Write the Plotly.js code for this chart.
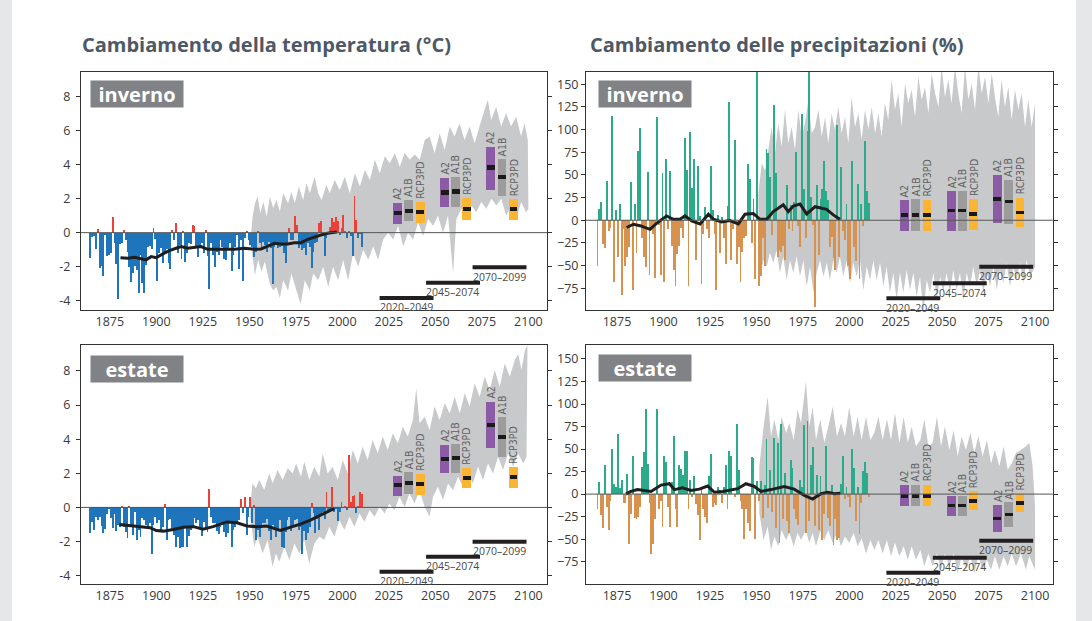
<!DOCTYPE html>
<html><head><meta charset="utf-8">
<script src="https://cdn.plot.ly/plotly-3.0.1.min.js"></script>
<style>
html,body{margin:0;padding:0;background:#e6e7e8;overflow:hidden;}
#frame{position:absolute;left:12px;top:0;width:1064px;height:621px;background:#ffffff;}
#chart{position:absolute;left:0;top:0;width:1092px;height:621px;}
</style></head>
<body><div id="frame"></div><div id="chart"></div>
<script>
// ---------------- DATA ----------------
const firstYear = 1864;
const tickYears = [1875,1900,1925,1950,1975,2000,2025,2050,2075,2100];
const tempTicks = [-4,-2,0,2,4,6,8];
const precTicks = [-75,-50,-25,0,25,50,75,100,125,150];

// Winter temperature anomaly (°C), 1864–2010
const tempWinter = [
 -1.47,-0.24,-0.2,-0.96,0.22,-2.06,
 -1.96,-2.53,-0.14,-1.35,-1.3,-1.18,0.92,-0.59,-1.82,-3.92,
 -0.69,-0.59,0.16,-0.43,-1.12,-2.04,-2.88,-2.35,-1.94,-2.2,
 -3.53,-1.31,-2.98,-3.53,-1.9,-0.82,-0.78,-0.98,0.25,-0.39,
 -2.82,-1.18,-0.9,-1.8,-1.22,-0.98,-1.8,-2.16,0.16,-0.43,
 0.57,-1.22,-0.75,-1.57,0.1,-1.73,-1.18,-0.63,-0.67,0.45,
 0.39,-0.82,-1.41,-0.82,-0.63,-1.18,0.16,-1.37,-3.33,-0.63,
 -1.33,-2.04,-1.16,-1.31,-0.43,-0.82,-1.57,-1.6,-0.92,-0.63,
 -2.24,-1.31,-0.82,-0.14,-2.12,-0.43,-2.82,-0.33,0.1,-0.43,
 -0.73,-0.82,-1.41,-1.12,0.1,-0.63,-0.82,-0.53,-0.73,-1.12,
 -0.53,-0.88,-3.0,-0.82,-0.73,-0.92,-0.82,-0.78,-1.22,-1.8,
 -0.73,0.25,-0.43,-0.43,0.98,0.45,-0.92,-0.73,-1.02,-0.92,
 -1.31,-0.63,-0.82,-2.1,-1.12,-0.63,-0.53,0.55,0.69,-0.14,
 -1.37,-0.33,0.06,0.35,0.84,0.65,0.9,0.7,-0.14,0.25,
 1.05,0.1,-0.33,0.1,-0.2,-1.37,2.16,0.75,-0.3,-0.1,-0.85];

// Summer temperature anomaly (°C), 1864–2010
const tempSummer = [
 -1.48,-0.84,-1.33,-0.55,-0.74,-0.59,
 -1.09,-1.48,-1.29,-0.41,-0.12,-0.64,-1.19,-0.41,-1.37,-1.04,
 -1.13,0.08,-1.13,-1.43,-1.82,0.08,-1.13,-1.62,-0.25,-1.91,
 -1.33,-1.76,-0.64,-0.74,-1.04,-1.13,-0.94,-2.73,-1.04,-0.59,
 -0.94,-0.74,-1.33,-1.17,0.2,-1.91,-0.74,-0.7,-1.33,-1.62,
 -2.34,-1.72,-2.4,-2.3,-2.3,-1.13,-2.3,-1.68,-1.33,-1.13,
 -0.64,-0.94,-0.74,-1.23,-1.68,-0.84,-1.29,-1.43,1.05,-0.55,
 -0.94,-0.9,-1.37,-1.56,-1.17,-0.9,-1.43,-1.72,-1.52,-0.9,
 -2.3,-1.33,-1.13,-0.98,-0.74,0.47,-0.35,0.6,-1.64,-0.55,
 0.62,-0.94,0.14,-1.91,-1.33,-1.72,-1.23,-0.9,-0.94,-0.7,
 -1.37,-1.91,-1.04,-1.33,-1.72,-1.33,-0.74,-2.3,-2.4,-1.43,
 -0.74,-0.55,-1.37,-1.04,-0.74,-0.7,-1.33,-1.13,-2.73,-1.37,
 -1.91,-1.52,-1.13,0.27,-0.35,-1.52,-0.7,-1.33,-0.51,-0.25,
 -0.7,0.88,-0.35,-0.16,1.17,-0.25,-0.12,-0.8,-0.25,0.3,
 -0.06,0.1,-0.16,3.07,0.33,0.65,0.75,-0.3,0.1,0.9,0.8];

// Winter precipitation anomaly (%), 1864–2010
const precWinter = [
 -50,12,20,-26,-31,43,
 -12,-8,115,-68,11,-41,18,-82,-10,-51,
 -40,-30,42,-77,18,-36,76,102,-20,-41,
 -52,53,-60,-10,-15,-64,114,-5,-60,52,
 -68,68,-10,54,-28,-55,-72,-37,-28,-8,
 -20,91,55,-72,97,36,68,-44,60,5,
 -70,-15,15,-10,-20,60,11,-15,-77,6,
 -36,4,-20,-48,16,131,-44,-10,89,-48,
 -30,-68,-35,-20,-17,62,46,-25,23,-65,
 164,-72,-62,-20,-50,79,74,48,-16,127,
 52,-40,-33,-35,-28,-44,39,-10,17,-12,
 20,75,-6,-30,117,35,-20,98,164,26,
 -5,-96,39,-38,24,34,65,32,22,-30,
 -18,-42,-55,105,-40,59,-12,-22,18,-50,
 -65,65,-30,-45,40,-65,18,-6,87,32,19];

// Summer precipitation anomaly (%), 1864–2010
const precSummer = [
 -17,13,-23,-38,32,-14,
 -40,-8,50,11,8,67,7,16,-10,-10,
 22,-55,-22,42,-27,-28,-25,-14,30,47,
 95,33,-10,-66,-55,-28,94,-17,-8,-36,
 42,36,-14,-36,13,65,-17,-36,32,28,
 21,48,48,-16,16,-3,20,-11,-23,-51,
 8,-17,-25,-32,20,44,-14,-10,-12,8,
 5,-10,8,32,-17,48,42,0,-3,78,
 27,-8,-17,-50,-17,-32,-41,41,40,-50,
 14,-8,14,-27,10,61,-15,27,-20,62,
 -38,57,-54,78,-28,23,-30,-43,38,29,
 -17,-28,-34,16,8,77,-43,81,-30,32,
 52,-35,21,-40,20,-51,-22,53,-27,-35,
 10,-56,-28,-51,-49,11,42,-5,8,-3,
 -14,50,29,-30,8,-44,-10,26,36,23,-3];

// Smoothed curves
const twLineYears = [1880.7,1884.7,1888.3,1891,1894.5,1897.2,1899.9,1903.5,1907,1910.6,1913.3,1916.9,1920.5,1924,1927.6,1931.2,1934.8,1938,1942,1947.3,1952.7,1956.3,1959.9,1963.5,1967,1970.6,1974.2,1977.8,1981.4,1985,1988.5,1992.1,1995.7,1997];
const twLineVals  = [-1.47,-1.51,-1.45,-1.53,-1.6,-1.41,-1.47,-1.25,-1.06,-0.92,-0.82,-0.92,-0.88,-0.82,-0.98,-0.98,-1.02,-1.02,-0.98,-0.92,-0.98,-0.96,-0.78,-0.63,-0.67,-0.67,-0.59,-0.59,-0.39,-0.24,-0.14,-0.04,0,0.04];
const tsLineYears = [1880.1,1887.6,1891,1896.6,1900,1903.8,1909.2,1914.6,1920,1925,1930.5,1934,1937.9,1943.3,1948.7,1954,1959.4,1966.6,1972,1977.4,1982.8,1988.2,1992.7,1995.7];
const tsLineVals  = [-1.0,-1.09,-1.13,-1.19,-1.36,-1.39,-1.29,-1.17,-1.13,-1.28,-1.13,-0.98,-0.85,-0.9,-1.09,-1.13,-1.09,-1.35,-1.17,-0.98,-0.74,-0.45,-0.21,-0.06];
const pwLineYears = [1880.2,1883.8,1887.4,1892.8,1896.4,1901.7,1905.3,1908.9,1911.6,1915.2,1919.7,1924.2,1926.9,1931.3,1935.8,1940.3,1943.9,1948.4,1952,1955.6,1959.1,1964.5,1967.2,1969.9,1973.5,1977.1,1981.6,1985.2,1987.8,1991.4,1995];
const pwLineVals  = [-8,-4.4,-6,-10,-3.3,4.8,1.1,1.1,4.8,-0.7,-4,6.6,1.1,-1.8,-0.4,-4,6.6,7.4,1.1,1.1,9.6,17,9.6,15.8,18,7,15,13,12,5.9,1.1];
const psLineYears = [1879.8,1882.5,1886,1889.7,1893.3,1898.7,1903.2,1905.9,1910.3,1914.8,1919.3,1923.8,1927.4,1931.9,1936.4,1940,1944.4,1948.9,1952.5,1957.9,1965,1970.4,1975.8,1980.3,1984.8,1988.4,1992,1995.2];
const psLineVals  = [0,3,5,4,3,10,11.5,5,7,4,5.5,9,2,3,5,6,11.5,8.5,3,5,8.5,5.5,-1.5,-5.5,0.4,2,0.4,1];

// Scenario ranges (grey envelopes)
const twBandUpYears = [1951,1951.7,1953,1954.4,1955.9,1957.5,1959.3,1961,1962.8,1964.6,1966.4,1968.2,1970.8,1972.6,1974.4,1976.6,1978.9,1980.7,1982.5,1985.1,1987,1988.8,1991.4,1993.2,1995.9,1998.6,2001.3,2004,2006.7,2009.4,2012.1,2014.8,2017.5,2020.1,2022.8,2025.5,2028.2,2030.9,2033.5,2036.2,2038.9,2041.6,2044.3,2046.9,2049.6,2052.3,2055,2057.7,2060.3,2063,2065.7,2068.4,2071.1,2073.7,2076.4,2078.2,2080,2082.7,2085.4,2088,2090.7,2093.4,2096.1,2097.9,2099.7];
const twBandUpVals  = [-0.04,0.94,1.73,2.12,1.14,1.82,0.94,2.12,1.43,1.92,1.24,2.32,1.73,2.41,1.73,2.71,1.92,2.91,2.32,3.29,2.32,1.92,2.81,2.32,3.1,2.51,3.29,2.32,3.49,2.71,3.69,3.1,4.28,3.49,4.5,4.08,4.67,3.88,4.7,4.28,4.6,4.28,5.45,5.65,4.67,5.85,4.86,6.24,5.65,6.44,5.45,6.24,5.26,6.24,7.22,7.81,6.63,7.41,6.24,7.02,6.24,6.82,5.65,6.44,5.45];
const twBandLoYears = [1951,1953,1954.7,1956.5,1958.3,1961,1962.8,1964.6,1966.4,1968.2,1970.8,1972.6,1975.3,1977.6,1979.8,1982.5,1984.3,1987,1989.7,1992.4,1995,1997.7,2000.4,2003.1,2005.8,2008.5,2011.2,2013.9,2016.6,2019.2,2021.9,2024.6,2027.3,2030,2032.7,2035.3,2038,2040.7,2043.4,2046.1,2048.8,2051.4,2054.1,2056.8,2059.5,2061.3,2064,2066.7,2069.4,2072,2074.7,2077.4,2080.1,2082.8,2085.4,2088.1,2090.8,2093.5,2096.1,2098.8,2100];
const twBandLoVals  = [-0.8,-2.5,-1.6,-2.3,-1.7,-3.0,-3.4,-3.2,-3.85,-2.8,-3.4,-2.4,-3.4,-4.2,-2.8,-3.4,-2.4,-2.8,-2.0,-3.2,-2.0,-2.8,-1.6,-2.8,-1.2,-2.0,-1.0,-1.6,-0.8,-1.6,-0.4,0,-0.4,0.4,-0.8,0,-0.4,0.6,-0.2,0.8,0.4,1.0,0,1.0,-2.4,0.8,1.4,0.8,1.6,1.2,1.8,1.4,2.0,1.6,2.0,1.0,1.6,0.8,1.8,1.2,1.4];

const tsBandUpYears = [1950.5,1951.7,1953.5,1955.3,1958,1960.7,1962.5,1965.2,1967.9,1970.6,1973.3,1975.1,1977.8,1979.5,1982.2,1984.9,1987.6,1989.4,1992.1,1994.8,1997.5,2000.2,2002.9,2005.6,2008.3,2010.9,2013.6,2016.3,2019,2021.7,2024.4,2027.1,2029.8,2032.5,2035.2,2037.9,2039.7,2041.5,2044.2,2046.9,2049.6,2052.3,2055,2057.7,2060.4,2063.1,2065.8,2068.4,2071.1,2073.8,2076.5,2079.2,2081.9,2084.6,2087.3,2090,2092.7,2094.5,2096.3,2098.1,2099.5];
const tsBandUpVals  = [0.04,1.41,1.12,1.6,1.02,1.99,1.41,2.19,1.6,2.29,1.99,2.58,1.8,2.68,1.6,2.39,1.8,3.17,1.99,2.39,1.6,2.78,1.99,3.36,2.58,3.56,2.78,3.95,3.17,4.15,3.36,4.34,3.76,4.73,4.15,5.13,6.98,4.93,5.32,4.54,5.91,5.13,6.1,5.52,6.49,5.52,6.69,5.91,7.27,6.49,7.66,6.88,8.05,7.08,8.44,7.66,8.64,9.0,8.05,9.2,9.5];
const tsBandLoYears = [1950.5,1952.6,1954.4,1957.1,1959.8,1962.5,1964.3,1966.1,1968.8,1971.5,1974.2,1976.9,1979.5,1982.2,1984.9,1987.6,1990.3,1993,1995.7,1998.4,2001.1,2003.8,2006.5,2009.2,2011.9,2014.6,2017.3,2020,2022.7,2025.3,2028,2030.7,2033.4,2036.1,2038.8,2041.5,2044.2,2046.9,2048.7,2051.4,2054.1,2056.8,2059.5,2062.2,2064.9,2067.6,2070.2,2072.9,2075.6,2078.3,2081,2083.7,2086.4,2089.1,2091.8,2094.5,2097.2,2099];
const tsBandLoVals  = [-0.55,-2.3,-1.72,-2.7,-1.9,-3.48,-2.7,-3.19,-2.3,-3.09,-2.11,-2.7,-1.9,-3.28,-2.11,-1.72,-1.9,-1.13,-1.72,-0.74,-1.33,-0.55,-1.13,-0.35,-0.84,-0.16,-0.55,0.04,-0.35,0.23,-0.16,0.62,0.04,0.82,0.23,1.01,0.04,-0.55,0.62,1.21,0.43,1.4,1.01,1.8,1.21,1.99,1.4,2.39,1.6,2.58,1.99,2.97,2.19,3.17,2.39,3.17,2.58,2.97];

const pwBandUpYears = [1951.1,1952.9,1954.7,1956.5,1958.2,1960,1961.8,1963.6,1965.4,1967.2,1969,1970.8,1972.6,1974.4,1976.2,1978,1979.8,1981.6,1983.4,1985.2,1987,1988.7,1990.5,1992.3,1994.1,1995.9,1997.7,1999.5,2001.3,2003.1,2004.9,2006.7,2008.5,2010.3,2012.1,2013.9,2015.7,2017.4,2019.2,2021,2022.8,2024.6,2026.4,2028.2,2030,2031.8,2033.6,2035.4,2037.2,2039,2040.8,2042.6,2044.4,2046.2,2048,2049.7,2051.5,2053.3,2055.1,2056.9,2058.7,2060.5,2062.3,2064.1,2065.9,2067.7,2069.5,2071.3,2073.1,2074.9,2076.7,2078.4,2080.2,2082,2083.8,2085.6,2087.4,2089.2,2091,2092.8,2094.6,2096.4,2098.2,2100];
const pwBandUpVals  = [30,63,55,78,103,74,107,81,122,85,103,78,122,92,107,133,96,103,122,92,114,85,118,100,125,96,114,85,136,103,118,89,122,100,125,96,118,92,129,111,155,122,140,103,151,129,144,114,158,133,147,118,162,140,125,170,136,155,129,170,140,118,170,133,151,122,170,140,158,129,162,136,114,155,125,147,111,144,122,140,103,133,103,129];
const pwBandLoYears = [1951.1,1952,1953.8,1955.6,1957.3,1959.1,1960.9,1962.7,1964.5,1966.3,1968.1,1969.9,1971.7,1973.5,1975.3,1977.1,1978.9,1980.7,1982.5,1984.3,1986.1,1987.9,1989.6,1991.4,1993.2,1995,1996.8,1998.6,2000.4,2002.2,2004,2005.8,2007.6,2009.4,2011.2,2013,2014.8,2016.6,2018.4,2020.1,2021.9,2023.7,2025.5,2027.3,2029.1,2030.9,2032.7,2034.5,2036.3,2038.1,2039.9,2041.7,2043.5,2045.3,2047.1,2048.9,2050.6,2052.4,2054.2,2056,2057.8,2059.6,2061.4,2063.2,2065,2066.8,2068.6,2070.4,2072.2,2074,2075.8,2077.6,2079.4,2081.1,2082.9,2084.7,2086.5,2088.3,2090.1,2091.9,2093.7,2095.5,2097.3,2100];
const pwBandLoVals  = [-14,-62,-44,-51,-36,-47,-33,-58,-40,-66,-44,-58,-40,-62,-44,-73,-51,-80,-58,-44,-62,-47,-66,-44,-58,-40,-62,-44,-69,-47,-62,-44,-77,-51,-66,-44,-66,-47,-73,-51,-80,-58,-88,-58,-80,-55,-77,-58,-84,-62,-102,-66,-80,-58,-88,-62,-80,-58,-80,-55,-77,-58,-88,-58,-73,-51,-73,-55,-80,-58,-73,-51,-77,-55,-69,-47,-73,-51,-66,-47,-69,-44,-62,-51];

const psBandUpYears = [1951.6,1953.9,1956.1,1957.9,1959.7,1961.8,1963.6,1966,1967.8,1970.1,1972.2,1974,1976.7,1978.5,1980.3,1982.1,1984.4,1986.6,1988.7,1991.1,1993.4,1995.6,1997.7,2000,2002.4,2004.5,2006.7,2009,2011.4,2013.5,2015.7,2018,2020.3,2022.5,2024.6,2027,2029.3,2031.5,2033.6,2035.9,2038.3,2040.4,2042.6,2044.9,2047.2,2049.4,2051.5,2053.9,2056.2,2058.4,2060.5,2062.8,2065.2,2067.3,2069.5,2071.8,2074.1,2076.3,2078.4,2080.8,2083.1,2085.3,2087.4,2089.8,2092.4,2095.1,2096.9,2098.7,2100];
const psBandUpVals  = [31,75,108,64,83,60,86,68,79,60,94,79,125,75,97,60,83,57,75,97,64,79,64,97,64,86,60,86,60,68,86,60,83,60,90,57,86,57,75,53,60,83,53,57,86,53,75,49,71,42,64,49,68,46,64,42,60,34,49,31,53,27,34,46,49,53,57,31,-14];
const psBandLoYears = [1951.6,1953.9,1956.1,1957.9,1959.7,1961.8,1963.6,1966,1967.8,1970.1,1972.2,1974,1976.7,1978.5,1980.3,1982.1,1984.4,1986.6,1988.7,1991.1,1993.4,1995.6,1997.7,2000,2002.4,2004.5,2006.7,2009,2011.4,2013.5,2015.7,2018,2020.3,2022.5,2024.6,2027,2029.3,2031.5,2033.6,2035.9,2038.3,2040.4,2042.6,2044.9,2047.2,2049.4,2051.5,2053.9,2056.2,2058.4,2060.5,2062.8,2065.2,2067.3,2069.5,2071.8,2074.1,2076.3,2078.4,2080.8,2083.1,2085.3,2087.4,2089.8,2092.4,2095.1,2096.9,2100];
const psBandLoVals  = [-21,-51,-36,-62,-47,-58,-40,-51,-43,-58,-43,-51,-40,-54,-43,-58,-41,-51,-40,-54,-43,-58,-47,-54,-43,-58,-49,-66,-51,-62,-51,-66,-51,-69,-54,-69,-58,-73,-58,-73,-62,-80,-66,-80,-66,-84,-66,-80,-66,-88,-69,-84,-69,-88,-69,-84,-73,-84,-69,-84,-69,-80,-66,-80,-66,-84,-69,-84];

// Scenario boxes (3 periods x 3 scenarios)
const scenarios   = ['A2','A1B','RCP3PD','A2','A1B','RCP3PD','A2','A1B','RCP3PD'];
const boxYears    = [2029.7,2035.7,2041.9,2055,2060.9,2066.8,2079.7,2085.8,2092];
const twBoxLow  = [0.51,0.71,0.57,1.53,1.53,0.75,2.51,2.18,0.75];
const twBoxHigh = [1.73,1.93,1.81,3.22,3.28,2.06,5.02,4.33,1.96];
const twBoxMed  = [1.14,1.3,1.22,2.36,2.42,1.41,3.83,3.26,1.37];
const tsBoxLow  = [0.67,0.78,0.73,2.04,2.04,1.16,3.5,2.97,1.16];
const tsBoxHigh = [1.84,2.07,1.96,3.66,3.72,2.33,6.18,5.3,2.39];
const tsBoxMed  = [1.29,1.45,1.37,2.84,2.9,1.74,4.83,4.13,1.78];
const pwBoxLow  = [-11.8,-11.8,-11.8,-11.8,-11.8,-10.7,-2.6,-4,-7];
const pwBoxHigh = [22.4,23.2,22.4,32.4,32.4,23.2,50,44.5,25];
const pwBoxMed  = [5.5,5.5,5.5,10.7,10.7,6.6,23.2,20.6,8.5];
const psBoxLow  = [-13,-13.7,-13.7,-24,-24,-17.4,-42.6,-36,-20.4];
const psBoxHigh = [9.6,10.4,10.4,-1.9,-1.9,3,-11.8,-9.3,0.4];
const psBoxMed  = [-1.9,-1.9,-1.9,-12.6,-12.6,-7.4,-27,-22.6,-9.6];

// Scenario periods
const periodStart = [2020,2045,2070];
const periodEnd   = [2049,2074,2099];
const twPeriodLevel = [-3.84,-2.94,-2.04];
const tsPeriodLevel = [-3.77,-2.89,-2.01];
const pwPeriodLevel = [-86,-69.5,-51.2];
const psPeriodLevel = [-87.3,-70.6,-51.7];

const titles = ['Cambiamento della temperatura (°C)','Cambiamento delle precipitazioni (%)'];
const seasonLabels = ['inverno','inverno','estate','estate'];

// ---------------- STYLE ----------------
const FONT = 'Open Sans, Noto Sans, sans-serif';
const scenColor = {'A2':'#8c5ba6','A1B':'#9c9c9c','RCP3PD':'#fbb533'};
const bandGrey = '#c8c9cb';

const panels = [
 {n:'', vals:tempWinter, pos:'#ee4036', neg:'#1f75bb', lx:twLineYears, ly:twLineVals,
  bux:twBandUpYears, buy:twBandUpVals, blx:twBandLoYears, bly:twBandLoVals,
  lo:twBoxLow, hi:twBoxHigh, med:twBoxMed, medHalf:0.12, per:twPeriodLevel,
  xdom:[0.0742,0.5009], ydom:[0.5008,0.8841], xr:[1859.5,2110], yr:[-4.55,9.45], temp:true, lbl:[0.0193,0.9664]},
 {n:'2', vals:precWinter, pos:'#2bab8a', neg:'#d8924f', lx:pwLineYears, ly:pwLineVals,
  bux:pwBandUpYears, buy:pwBandUpVals, blx:pwBandLoYears, bly:pwBandLoVals,
  lo:pwBoxLow, hi:pwBoxHigh, med:pwBoxMed, medHalf:2.1, per:pwPeriodLevel,
  xdom:[0.5366,0.964], ydom:[0.5008,0.8841], xr:[1858.3,2109.5], yr:[-99,163.6], temp:false, lbl:[0.0257,0.9664]},
 {n:'3', vals:tempSummer, pos:'#ee4036', neg:'#1f75bb', lx:tsLineYears, ly:tsLineVals,
  bux:tsBandUpYears, buy:tsBandUpVals, blx:tsBandLoYears, bly:tsBandLoVals,
  lo:tsBoxLow, hi:tsBoxHigh, med:tsBoxMed, medHalf:0.12, per:tsPeriodLevel,
  xdom:[0.0742,0.5009], ydom:[0.0596,0.4444], xr:[1859.5,2110], yr:[-4.49,9.52], temp:true, lbl:[0.0193,0.958]},
 {n:'4', vals:precSummer, pos:'#2bab8a', neg:'#d8924f', lx:psLineYears, ly:psLineVals,
  bux:psBandUpYears, buy:psBandUpVals, blx:psBandLoYears, bly:psBandLoVals,
  lo:psBoxLow, hi:psBoxHigh, med:psBoxMed, medHalf:2.1, per:psPeriodLevel,
  xdom:[0.5366,0.964], ydom:[0.0596,0.4444], xr:[1858.3,2109.5], yr:[-99.8,165.5], temp:false, lbl:[0.0257,0.962]}
];

const traces = [];
const layout = {
  width:1092, height:621, margin:{l:0,r:0,t:0,b:0},
  paper_bgcolor:'rgba(0,0,0,0)', plot_bgcolor:'#ffffff',
  showlegend:false, barmode:'overlay', bargap:0,
  font:{family:FONT, color:'#3a3a3a'},
  annotations:[], shapes:[]
};

panels.forEach((p, pi) => {
  const xa = 'x'+p.n, ya = 'y'+p.n;
  const years = p.vals.map((_, i) => firstYear + i);
  // grey scenario envelope, drawn beneath all traces (data coordinates)
  const xs = p.bux.concat(p.blx.slice().reverse());
  const ys = p.buy.concat(p.bly.slice().reverse());
  layout.shapes.push({type:'path', xref:xa, yref:ya, layer:'below',
    path:'M ' + xs.map((x, i) => x + ',' + ys[i]).join(' L ') + ' Z',
    fillcolor:bandGrey, line:{width:0}});
  // annual bars
  traces.push({type:'bar', xaxis:xa, yaxis:ya, hoverinfo:'skip',
    x: years, y: p.vals, width:1, offset:0,
    marker:{color: p.vals.map(v => v >= 0 ? p.pos : p.neg), line:{width:0}}});
  // scenario boxes
  traces.push({type:'bar', xaxis:xa, yaxis:ya, hoverinfo:'skip',
    x:boxYears, base:p.lo, y:p.hi.map((h,i) => h - p.lo[i]), width:4.6,
    marker:{color: scenarios.map(s => scenColor[s]), line:{width:0}}});
  traces.push({type:'bar', xaxis:xa, yaxis:ya, hoverinfo:'skip',
    x:boxYears, base:p.med.map(m => m - p.medHalf), y:p.med.map(() => 2*p.medHalf), width:4.2,
    marker:{color:'#1a1a1a', line:{width:0}}});
  // smoothed curve
  traces.push({type:'scatter', mode:'lines', xaxis:xa, yaxis:ya, hoverinfo:'skip',
    x:p.lx, y:p.ly, line:{color:'#1e1e1e', width:3}});
  // period bars
  periodStart.forEach((s, k) => {
    traces.push({type:'scatter', mode:'lines', xaxis:xa, yaxis:ya, hoverinfo:'skip',
      x:[s, periodEnd[k]], y:[p.per[k], p.per[k]], line:{color:'#231f20', width:4}});
    layout.annotations.push({xref:xa, yref:ya, x:s, y:p.per[k], xanchor:'left', yanchor:'top',
      text: s + '–' + periodEnd[k], showarrow:false, borderpad:0, xshift:-1, yshift:-1.5,
      font:{family:FONT, size:10.5, color:'#4a4a4a'}});
  });
  scenarios.forEach((s, i) => {
    layout.annotations.push({xref:xa, yref:ya, x:boxYears[i], y:p.hi[i], xanchor:'center', yanchor:'bottom',
      text:s, textangle:-90, showarrow:false, borderpad:0, yshift:2,
      font:{family:'Liberation Sans Narrow, DejaVu Sans Condensed, Open Sans, sans-serif', size:10.5, color:'#606060'}});
  });
  // zero line
  layout.shapes.push({type:'line', xref:xa+' domain', yref:ya, x0:0, x1:1, y0:0, y1:0,
    line:{color:'#555555', width:1}, layer:'above'});
  // season label
  layout.annotations.push({xref:xa+' domain', yref:ya+' domain', x:p.lbl[0], y:p.lbl[1],
    xanchor:'left', yanchor:'top', text:'<b>'+seasonLabels[pi]+'</b>', showarrow:false,
    bgcolor:'#808285', width:92, height:26, borderpad:0, align:'center', valign:'middle',
    font:{family:FONT, size:20, color:'#ffffff'}});

  const xkey = 'xaxis'+p.n, ykey = 'yaxis'+p.n;
  layout[xkey] = {domain:p.xdom, range:p.xr, anchor:ya, showline:true, mirror:true,
    linecolor:'#333333', linewidth:1, ticks:'', tickvals:tickYears, showgrid:false, zeroline:false,
    tickfont:{family:FONT, size:12.5, color:'#3a3a3a'}, fixedrange:true};
  const yax = {domain:p.ydom, range:p.yr, anchor:xa, showline:true, mirror:'ticks',
    linecolor:'#333333', linewidth:1, ticks:'outside', ticklen:4, tickcolor:'#333333',
    showgrid:false, zeroline:false, tickfont:{family:FONT, size:12.5, color:'#3a3a3a'}, fixedrange:true};
  if (p.temp) { yax.tickvals = tempTicks; yax.ticktext = tempTicks.map(String); yax.ticklabelstandoff = 3; }
  else { yax.tickvals = precTicks; }
  layout[ykey] = yax;
});

// column titles
layout.annotations.push({xref:'paper', yref:'paper', x:80/1092, y:1-45/621, xanchor:'left', yanchor:'middle',
  text:'<b>'+titles[0]+'</b>', showarrow:false, font:{family:FONT, size:20, color:'#4d5966'}});
layout.annotations.push({xref:'paper', yref:'paper', x:588/1092, y:1-45/621, xanchor:'left', yanchor:'middle',
  text:'<b>'+titles[1]+'</b>', showarrow:false, font:{family:FONT, size:20, color:'#4d5966'}});

Plotly.newPlot('chart', traces, layout, {staticPlot:true, displayModeBar:false});
</script></body></html>
